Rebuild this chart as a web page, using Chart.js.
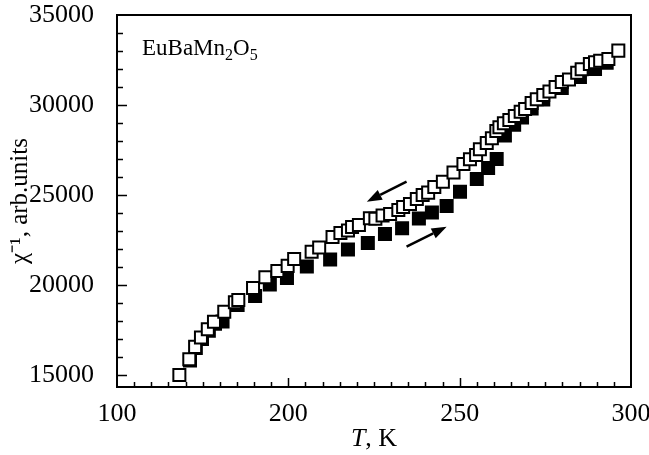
<!DOCTYPE html>
<html lang="en">
<head>
    <meta charset="UTF-8">
    <title>EuBaMn2O5 inverse susceptibility</title>
    <script src="https://cdn.jsdelivr.net/npm/chart.js"></script>
    <style>
        html, body { margin: 0; padding: 0; background: #fff; }
    </style>
</head>
<body>
    <canvas id="chiChart" width="649" height="455"></canvas>

    <script>
        // cooling run (open squares)
        const coolT = [168.2, 171.1, 172.8, 174.5, 176.5, 178.3, 181.3, 184.4, 185.4, 189.7,
            193.3, 196.8, 199.8, 201.7, 206.8, 209.0, 212.9, 215.2, 217.4, 218.6,
            220.6, 223.8, 225.4, 227.5, 229.7, 232.1, 233.5, 235.5, 237.5, 239.2,
            240.8, 242.6, 245.1, 248.2, 251.1, 253.0, 254.8, 255.9, 257.9, 259.4,
            260.7, 261.6, 262.9, 264.5, 266.1, 267.8, 269.1, 271.0, 272.5, 274.4,
            276.2, 278.0, 279.8, 281.9, 284.3, 285.6, 288.0, 289.5, 291.0, 293.4, 296.3];
        const coolChi = [15000, 15870, 16560, 17080, 17540, 17960, 18510, 19040, 19170, 19830,
            20430, 20780, 21060, 21440, 21850, 22080, 22670, 22890, 23030, 23220,
            23330, 23710, 23680, 23860, 23940, 24170, 24330, 24500, 24780, 25000,
            25130, 25440, 25740, 26250, 26720, 26980, 27220, 27540, 27890, 28150,
            28560, 28760, 28980, 29170, 29390, 29630, 29780, 30110, 30320, 30560,
            30750, 31000, 31280, 31420, 31790, 31980, 32280, 32380, 32460, 32560, 33020];

        // heating run (filled squares)
        const heatT = [171.3, 173.0, 174.8, 176.8, 178.6, 180.8, 185.2, 190.3, 194.6, 199.6,
            205.4, 212.2, 217.4, 223.2, 228.2, 233.2, 238.1, 241.9, 246.2, 250.1,
            255.0, 258.3, 260.8, 263.2, 265.9, 268.2, 271.0, 274.4, 279.8, 285.1,
            289.5, 292.9];
        const heatChi = [15800, 16500, 17000, 17450, 17850, 17970, 18890, 19390, 20030, 20390,
            21030, 21420, 21970, 22330, 22830, 23150, 23690, 24030, 24390, 25180,
            25890, 26500, 27000, 28300, 28900, 29300, 29800, 30300, 30950, 31550,
            32000, 32350];

        const xTickValues = [150, 200, 250, 300];
        const xTickLabels = ['100', '200', '250', '300'];
        const yTickValues = [15000, 20000, 25000, 30000, 35000];
        const yTickLabels = ['15000', '20000', '25000', '30000', '35000'];

        // arrows: [fromT, fromChi, toT, toChi]
        const coolArrow = [234.5, 25740, 222.9, 24630];
        const heatArrow = [234.5, 22130, 246.2, 23240];

        const serif = "'Liberation Serif', 'Times New Roman', serif";

        function toPoints(xs, ys) {
            return xs.map((x, i) => ({ x: x, y: ys[i] }));
        }

        function drawArrow(ctx, x1, y1, x2, y2) {
            const ang = Math.atan2(y2 - y1, x2 - x1);
            const head = 15, half = 5.5;
            const bx = x2 - head * Math.cos(ang), by = y2 - head * Math.sin(ang);
            ctx.beginPath();
            ctx.moveTo(x1, y1);
            ctx.lineTo(bx, by);
            ctx.lineWidth = 2.5;
            ctx.stroke();
            ctx.beginPath();
            ctx.moveTo(x2, y2);
            ctx.lineTo(bx + half * Math.sin(ang), by - half * Math.cos(ang));
            ctx.lineTo(bx - half * Math.sin(ang), by + half * Math.cos(ang));
            ctx.closePath();
            ctx.fill();
        }

        const framePlugin = {
            id: 'frame',
            afterDraw(chart) {
                const { ctx, chartArea: a, scales: { x, y } } = chart;
                ctx.save();
                ctx.strokeStyle = '#000';
                ctx.fillStyle = '#000';

                // frame
                ctx.lineWidth = 2;
                ctx.strokeRect(a.left, a.top, a.right - a.left, a.bottom - a.top);

                // inward ticks
                ctx.lineWidth = 1.5;
                ctx.beginPath();
                for (let v = 15000; v < 35000; v += 1000) {
                    const py = Math.round(y.getPixelForValue(v)) + 0.5;
                    const len = v % 5000 === 0 ? 10 : 6;
                    ctx.moveTo(a.left, py);
                    ctx.lineTo(a.left + len, py);
                }
                for (let v = 155; v < 300; v += 5) {
                    const px = Math.round(x.getPixelForValue(v)) + 0.5;
                    const len = v % 50 === 0 ? 9 : 5;
                    ctx.moveTo(px, a.bottom);
                    ctx.lineTo(px, a.bottom - len);
                }
                ctx.stroke();

                // arrows
                drawArrow(ctx, x.getPixelForValue(coolArrow[0]), y.getPixelForValue(coolArrow[1]),
                    x.getPixelForValue(coolArrow[2]), y.getPixelForValue(coolArrow[3]));
                drawArrow(ctx, x.getPixelForValue(heatArrow[0]), y.getPixelForValue(heatArrow[1]),
                    x.getPixelForValue(heatArrow[2]), y.getPixelForValue(heatArrow[3]));

                // compound label
                ctx.textBaseline = 'alphabetic';
                ctx.textAlign = 'left';
                const parts = [['EuBaMn', 23, 0], ['2', 16, 5], ['O', 23, 0], ['5', 16, 5]];
                let tx = a.left + 25;
                const base = a.top + 40;
                parts.forEach(p => {
                    ctx.font = p[1] + 'px ' + serif;
                    ctx.fillText(p[0], tx, base + p[2]);
                    tx += ctx.measureText(p[0]).width;
                });

                // x axis title: italic T
                ctx.font = 'italic 26px ' + serif;
                const wT = ctx.measureText('T').width;
                ctx.font = '26px ' + serif;
                const wK = ctx.measureText(', K').width;
                let sx = (a.left + a.right) / 2 - (wT + wK) / 2;
                ctx.font = 'italic 26px ' + serif;
                ctx.fillText('T', sx, 446);
                ctx.font = '26px ' + serif;
                ctx.fillText(', K', sx + wT, 446);
                ctx.restore();
            }
        };

        const ctx = document.getElementById('chiChart').getContext('2d');
        new Chart(ctx, {
            type: 'scatter',
            data: {
                datasets: [{
                    label: 'cooling',
                    data: toPoints(coolT, coolChi),
                    pointStyle: 'rect',
                    pointRadius: 8.5,
                    backgroundColor: '#fff',
                    borderColor: '#000',
                    borderWidth: 2
                }, {
                    label: 'heating',
                    data: toPoints(heatT, heatChi),
                    pointStyle: 'rect',
                    pointRadius: 8.5,
                    backgroundColor: '#000',
                    borderColor: '#000',
                    borderWidth: 2
                }]
            },
            options: {
                responsive: false,
                animation: false,
                devicePixelRatio: 1,
                layout: { padding: { top: 15, right: 18, left: 0, bottom: 0 } },
                plugins: {
                    legend: { display: false },
                    tooltip: { enabled: false }
                },
                scales: {
                    x: {
                        type: 'linear',
                        min: 150,
                        max: 300,
                        grid: { display: false },
                        border: { display: false },
                        afterBuildTicks: s => { s.ticks = xTickValues.map(v => ({ value: v })); },
                        afterFit: s => { s.height = 68; s.paddingLeft = 0; s.paddingRight = 0; },
                        ticks: {
                            color: '#000',
                            padding: 4,
                            maxRotation: 0,
                            font: { family: serif, size: 26 },
                            callback: (v, i) => xTickLabels[i]
                        }
                    },
                    y: {
                        min: 14330,
                        max: 35000,
                        grid: { display: false },
                        border: { display: false },
                        afterBuildTicks: s => { s.ticks = yTickValues.map(v => ({ value: v })); },
                        afterFit: s => { s.width = 117; s.paddingTop = 0; s.paddingBottom = 0; },
                        ticks: {
                            color: '#000',
                            padding: 15,
                            font: { family: serif, size: 26 },
                            callback: (v, i) => yTickLabels[i]
                        },
                        title: {
                            display: true,
                            text: 'χ⁻¹, arb.units',
                            color: '#000',
                            padding: { top: 5, bottom: 0 },
                            font: { family: serif, size: 25 }
                        }
                    }
                }
            },
            plugins: [framePlugin]
        });
    </script>
</body>
</html>
